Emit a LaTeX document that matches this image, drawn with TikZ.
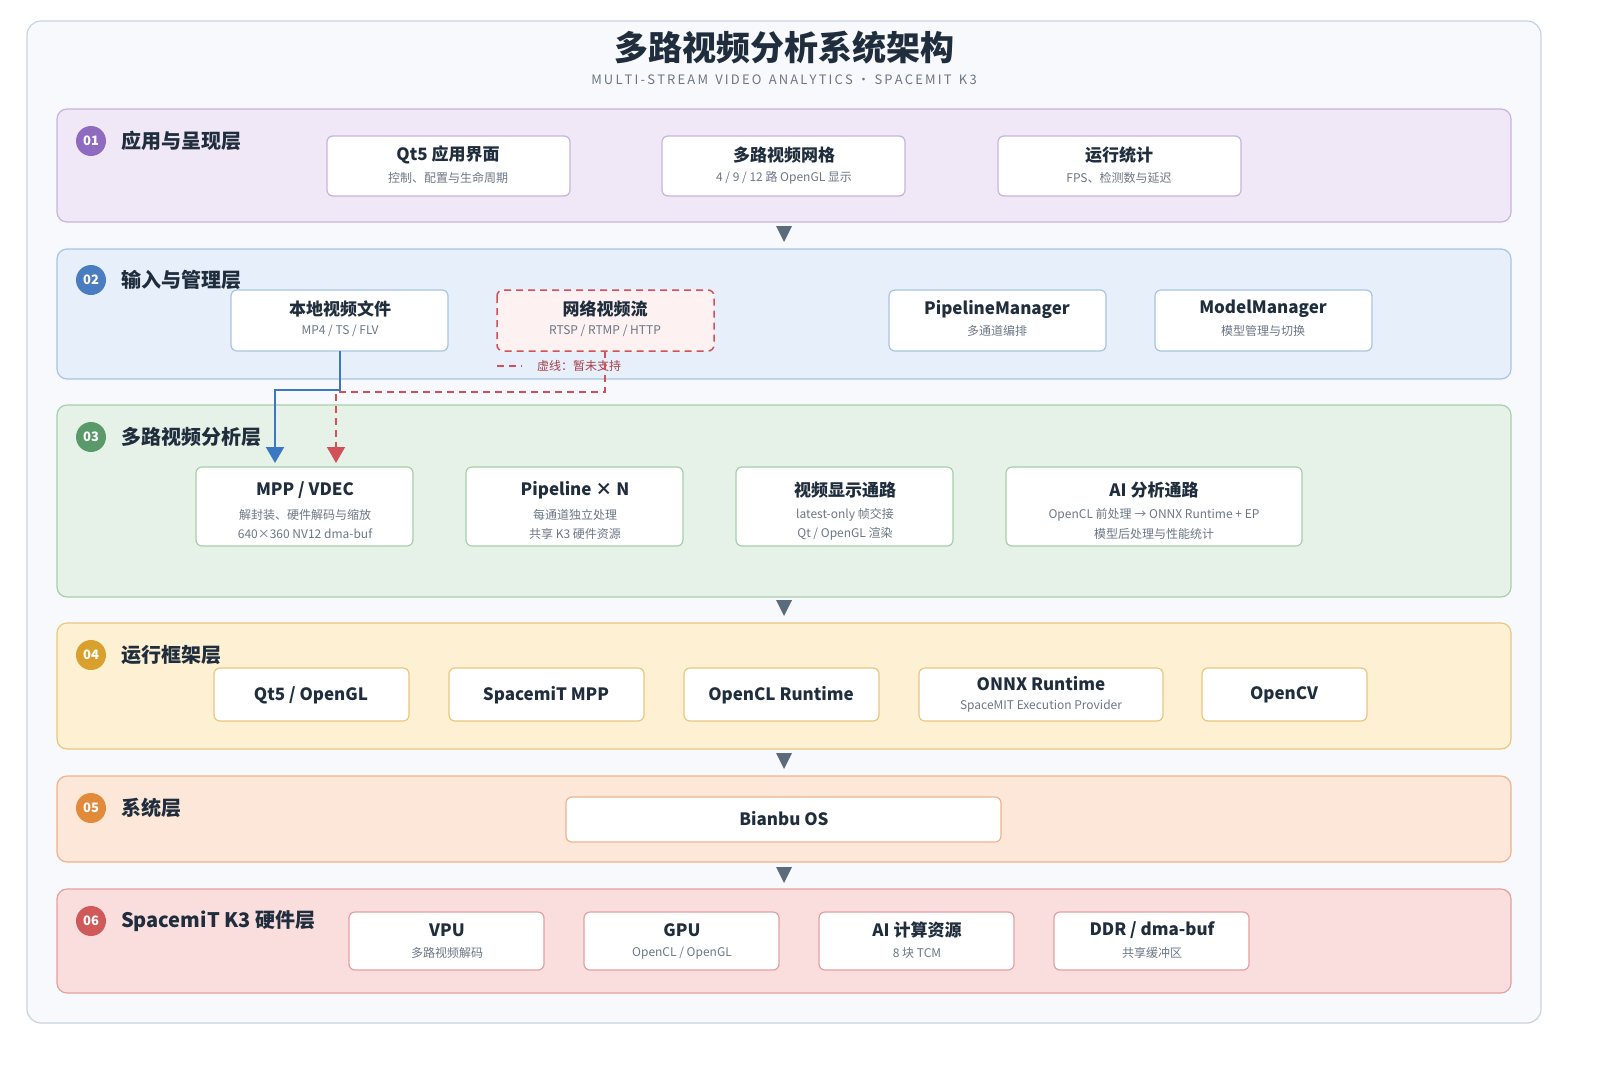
\documentclass[tikz,border=0pt]{standalone}
\usepackage{fontspec}
\setmainfont{Noto Sans CJK SC}
\usetikzlibrary{arrows.meta}
\definecolor{ink}{HTML}{1F2D3D}
\definecolor{sub}{HTML}{6B7785}
\definecolor{tri}{HTML}{5B6B7B}
\definecolor{f1}{HTML}{F0E7F7}\definecolor{d1}{HTML}{C9B3DD}\definecolor{b1}{HTML}{8E6BBF}
\definecolor{f2}{HTML}{E6EFFA}\definecolor{d2}{HTML}{A9C3E3}\definecolor{b2}{HTML}{4A7CC0}
\definecolor{f3}{HTML}{E6F2E7}\definecolor{d3}{HTML}{A6CFAA}\definecolor{b3}{HTML}{5A9A6A}
\definecolor{f4}{HTML}{FDF0D3}\definecolor{d4}{HTML}{E9C77D}\definecolor{b4}{HTML}{D9A02E}
\definecolor{f5}{HTML}{FDE7D8}\definecolor{d5}{HTML}{EDB48C}\definecolor{b5}{HTML}{E08A3A}
\definecolor{f6}{HTML}{FADDDD}\definecolor{d6}{HTML}{E3A0A0}\definecolor{b6}{HTML}{D05A5A}
\definecolor{redd}{HTML}{D2505A}\definecolor{blu}{HTML}{3A78C4}
\definecolor{bgc}{HTML}{F7F9FC}\definecolor{bgd}{HTML}{C8D3DF}\definecolor{netf}{HTML}{FDF1F1}
\tikzset{
 layer/.style={draw=#1, line width=0.6pt, rounded corners=5pt},
 box/.style={draw=#1, line width=0.6pt, fill=white, rounded corners=3pt},
 badge/.style={circle, minimum size=15pt, inner sep=0pt, text=white, font=\bfseries\fontsize{6.5}{6.5}\selectfont},
 ltitle/.style={anchor=west, text=ink, font=\bfseries\fontsize{10}{10}\selectfont},
 btitle/.style={text=ink, font=\bfseries\fontsize{8.5}{8.5}\selectfont},
 bsub/.style={text=sub, font=\fontsize{6}{6}\selectfont},
 reddash/.style={redd, line width=0.75pt, dash pattern=on 3.5pt off 2.5pt},
}
\newcommand{\boxx}[6]{\draw[box=#6] (#2,#3) rectangle (#4,#5); \coordinate (#1) at ({(#2+#4)/2},{(#3+#5)/2});}
\newcommand{\tridown}[1]{\fill[tri] (776,#1-8) -- (792,#1-8) -- (784,#1+8) -- cycle;}
\begin{document}
\begin{tikzpicture}[x=0.5pt,y=-0.5pt]
\useasboundingbox (0,0) rectangle (1600,1067);
\fill[white] (0,0) rectangle (1600,1067);
\draw[fill=bgc, draw=bgd, line width=0.6pt, rounded corners=7pt] (27,21) rectangle (1541,1023);
\node[text=ink, font=\bfseries\fontsize{17}{17}\selectfont] (title) at (784,48) {多路视频分析系统架构};
\node[text=sub, font=\fontsize{6.5}{6.5}\selectfont] (subt) at (784,80) {M\,U\,L\,T\,I\,-\,S\,T\,R\,E\,A\,M\, \,V\,I\,D\,E\,O\, \,A\,N\,A\,L\,Y\,T\,I\,C\,S\,\,·\,\,S\,P\,A\,C\,E\,M\,I\,T\, \,K\,3};
% Layer 1
\draw[layer=d1, fill=f1] (57,109) rectangle (1511,222);
\node[badge, fill=b1] (n1) at (91,141) {01};
\node[ltitle] (l1) at (114,141) {应用与呈现层};
\boxx{a1}{327}{136}{570}{196}{d1}
\node[btitle] (a1t) at (448,155) {Qt5 应用界面};
\node[bsub] (a1s) at (448,178) {控制、配置与生命周期};
\boxx{a2}{662}{136}{905}{196}{d1}
\node[btitle] (a2t) at (784,155) {多路视频网格};
\node[bsub] (a2s) at (784,178) {4 / 9 / 12 路 OpenGL 显示};
\boxx{a3}{998}{136}{1241}{196}{d1}
\node[btitle] (a3t) at (1119,155) {运行统计};
\node[bsub] (a3s) at (1119,178) {FPS、检测数与延迟};
\tridown{234}
% Layer 2
\draw[layer=d2, fill=f2] (57,249) rectangle (1511,379);
\node[badge, fill=b2] (n2) at (91,280) {02};
\node[ltitle] (l2) at (114,280) {输入与管理层};
\boxx{b1}{231}{290}{448}{351}{d2}
\node[btitle] (b1t) at (340,309) {本地视频文件};
\node[bsub] (b1s) at (340,331) {MP4 / TS / FLV};
\draw[reddash, fill=netf, rounded corners=3pt] (497,290) rectangle (714,351);
\node[btitle] (b2t) at (605,309) {网络视频流};
\node[bsub] (b2s) at (605,331) {RTSP / RTMP / HTTP};
\boxx{b3}{889}{290}{1106}{351}{d2}
\node[btitle] (b3t) at (997,309) {PipelineManager};
\node[bsub] (b3s) at (997,331) {多通道编排};
\boxx{b4}{1155}{290}{1372}{351}{d2}
\node[btitle] (b4t) at (1263,309) {ModelManager};
\node[bsub] (b4s) at (1263,331) {模型管理与切换};
\coordinate (lg1) at (497,366); \coordinate (lg2) at (522,366);
\draw[reddash] (lg1) -- (lg2);
\node[text=redd!80!black, font=\fontsize{6}{6}\selectfont, anchor=west] (lgt) at (530,366) {虚线：暂未支持};
% Layer 3
\draw[layer=d3, fill=f3] (57,405) rectangle (1511,597);
\node[badge, fill=b3] (n3) at (91,437) {03};
\node[ltitle] (l3) at (114,437) {多路视频分析层};
\boxx{c1}{196}{467}{413}{546}{d3}
\node[btitle] (c1t) at (305,490) {MPP / VDEC};
\node[bsub] (c1s) at (305,515) {解封装、硬件解码与缩放};
\node[bsub] (c1u) at (305,534) {640×360 NV12 dma-buf};
\boxx{c2}{466}{467}{683}{546}{d3}
\node[btitle] (c2t) at (575,490) {Pipeline × N};
\node[bsub] (c2s) at (575,515) {每通道独立处理};
\node[bsub] (c2u) at (575,534) {共享 K3 硬件资源};
\boxx{c3}{736}{467}{953}{546}{d3}
\node[btitle] (c3t) at (845,490) {视频显示通路};
\node[bsub] (c3s) at (845,515) {latest-only 帧交接};
\node[bsub] (c3u) at (845,534) {Qt / OpenGL 渲染};
\boxx{c4}{1006}{467}{1302}{546}{d3}
\node[btitle] (c4t) at (1154,490) {AI 分析通路};
\node[bsub] (c4s) at (1154,515) {OpenCL 前处理 → ONNX Runtime + EP};
\node[bsub] (c4u) at (1154,534) {模型后处理与性能统计};
% connectors
\coordinate (p1) at (340,351); \coordinate (p2) at (275,463);
\coordinate (q1) at (605,351); \coordinate (q2) at (336,463);
\draw[blu, line width=1.1pt, -{Triangle[length=8pt,width=9pt]}] (p1) |- (310,390) -| (p2);
\draw[reddash, -{Triangle[length=8pt,width=9pt]}] (q1) |- (470,392) -| (q2);
\tridown{608}
% Layer 4
\draw[layer=d4, fill=f4] (57,623) rectangle (1511,749);
\node[badge, fill=b4] (n4) at (91,655) {04};
\node[ltitle] (l4) at (114,655) {运行框架层};
\boxx{e1}{214}{668}{409}{721}{d4}
\node[btitle] (e1t) at (311,695) {Qt5 / OpenGL};
\boxx{e2}{449}{668}{644}{721}{d4}
\node[btitle] (e2t) at (546,695) {SpacemiT MPP};
\boxx{e3}{684}{668}{879}{721}{d4}
\node[btitle] (e3t) at (781,695) {OpenCL Runtime};
\boxx{e4}{919}{668}{1163}{721}{d4}
\node[btitle] (e4t) at (1041,684) {ONNX Runtime};
\node[bsub] (e4s) at (1041,706) {SpaceMIT Execution Provider};
\boxx{e5}{1202}{668}{1367}{721}{d4}
\node[btitle] (e5t) at (1284,695) {OpenCV};
\tridown{761}
% Layer 5
\draw[layer=d5, fill=f5] (57,776) rectangle (1511,862);
\node[badge, fill=b5] (n5) at (91,808) {05};
\node[ltitle] (l5) at (114,808) {系统层};
\boxx{h1}{566}{797}{1001}{842}{d5}
\node[btitle] (h1t) at (784,819) {Bianbu OS};
\tridown{875}
% Layer 6
\draw[layer=d6, fill=f6] (57,889) rectangle (1511,993);
\node[badge, fill=b6] (n6) at (91,921) {06};
\node[ltitle] (l6) at (114,921) {SpacemiT K3 硬件层};
\boxx{g1}{349}{912}{544}{970}{d6}
\node[btitle] (g1t) at (447,930) {VPU};
\node[bsub] (g1s) at (447,953) {多路视频解码};
\boxx{g2}{584}{912}{779}{970}{d6}
\node[btitle] (g2t) at (682,930) {GPU};
\node[bsub] (g2s) at (682,953) {OpenCL / OpenGL};
\boxx{g3}{819}{912}{1014}{970}{d6}
\node[btitle] (g3t) at (917,930) {AI 计算资源};
\node[bsub] (g3s) at (917,953) {8 块 TCM};
\boxx{g4}{1054}{912}{1249}{970}{d6}
\node[btitle] (g4t) at (1152,930) {DDR / dma-buf};
\node[bsub] (g4s) at (1152,953) {共享缓冲区};
\end{tikzpicture}
\end{document}
